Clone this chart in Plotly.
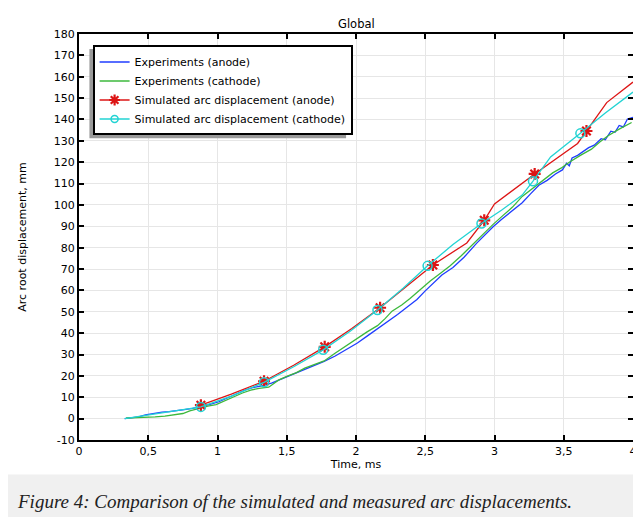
import plotly.graph_objects as go

# ---------------- data ----------------
exp_anode_t = [0.33, 0.38, 0.43, 0.48, 0.54, 0.60, 0.65, 0.70, 0.76, 0.82, 0.88, 0.94,
               1.01, 1.08, 1.14, 1.20, 1.26, 1.32, 1.39, 1.46, 1.54, 1.62, 1.70, 1.77,
               1.85, 1.93, 2.01, 2.08, 2.155, 2.23, 2.30, 2.37, 2.44, 2.50, 2.56, 2.62,
               2.70, 2.78, 2.87, 2.93, 2.99, 3.05, 3.12, 3.20, 3.26, 3.32, 3.38, 3.44,
               3.49, 3.52, 3.54, 3.56, 3.60, 3.64, 3.68, 3.72, 3.77, 3.80, 3.84, 3.87,
               3.90, 3.93, 3.96, 4.00]
exp_anode_d = [0.0, 0.3, 0.8, 1.8, 2.5, 3.0, 3.3, 3.6, 4.2, 4.8, 5.5, 6.5,
               7.9, 9.8, 11.6, 13.4, 14.6, 15.3, 16.6, 18.5, 20.5, 23.0, 25.2, 26.8,
               29.3, 32.2, 35.4, 38.6, 42.0, 45.5, 48.7, 52.2, 55.8, 59.8, 63.6, 67.2,
               70.7, 75.5, 82.0, 86.0, 89.8, 93.2, 96.8, 101.0, 105.2, 109.2, 111.5, 114.5,
               116.4, 119.5, 118.3, 122.0, 123.2, 125.0, 126.8, 128.0, 131.0, 130.5, 134.5, 134.0,
               137.2, 136.5, 140.2, 141.0]

exp_cathode_t = [0.34, 0.40, 0.49, 0.55, 0.62, 0.70, 0.75, 0.80, 0.87, 0.93, 0.99, 1.05,
                 1.11, 1.18, 1.24, 1.30, 1.37, 1.40, 1.44, 1.50, 1.57, 1.63, 1.70, 1.77,
                 1.846, 1.92, 2.01, 2.08, 2.155, 2.21, 2.26, 2.33, 2.39, 2.46, 2.536, 2.61,
                 2.68, 2.76, 2.87, 2.93, 2.99, 3.06, 3.13, 3.20, 3.27, 3.35, 3.42, 3.48,
                 3.54, 3.62, 3.70, 3.76, 3.82, 3.90, 3.99]
exp_cathode_d = [0.3, 0.4, 0.4, 0.8, 1.2, 1.8, 2.4, 3.6, 5.0, 5.9, 6.6, 8.3,
                 10.2, 12.0, 13.3, 14.2, 14.7, 16.0, 18.0, 19.8, 21.5, 23.6, 25.3, 27.0,
                 30.5, 33.8, 37.8, 40.6, 43.5, 46.8, 50.3, 53.2, 56.2, 60.2, 64.4, 68.0,
                 71.5, 76.2, 83.3, 87.2, 90.9, 95.0, 99.0, 104.0, 107.5, 111.8, 115.0, 117.2,
                 120.0, 123.2, 126.1, 129.5, 132.4, 135.5, 138.6]

sim_anode_t = [0.88, 1.10, 1.336, 1.55, 1.774, 1.97, 2.174, 2.36, 2.555, 2.80, 2.926,
               3.00, 3.29, 3.60, 3.664, 3.81, 4.00]
sim_anode_d = [6.3, 11.5, 17.5, 25.0, 33.6, 42.2, 51.9, 61.5, 71.9, 82.2, 92.8,
               100.5, 114.5, 128.8, 134.6, 147.9, 157.5]
sim_anode_marked = [0, 2, 4, 6, 8, 10, 12, 14]

sim_cathode_t = [0.33, 0.45, 0.60, 0.75, 0.88, 1.10, 1.336, 1.55, 1.763, 1.96, 2.155,
                 2.34, 2.517, 2.70, 2.906, 3.05, 3.20, 3.278, 3.405, 3.62, 3.80, 4.00]
sim_cathode_d = [0.0, 1.2, 2.6, 3.9, 5.5, 10.5, 17.0, 24.3, 32.2, 41.0, 50.8,
                 61.0, 71.5, 81.5, 91.3, 97.5, 104.6, 111.1, 122.5, 133.5, 143.0, 152.8]
sim_cathode_marked = [4, 6, 8, 10, 12, 14, 17, 19]

x_tickvals = [0, 0.5, 1, 1.5, 2, 2.5, 3, 3.5, 4]
x_ticktext = ["0", "0,5", "1", "1,5", "2", "2,5", "3", "3,5", "4"]
y_tickvals = list(range(-10, 181, 10))
y_ticktext = [str(v) for v in y_tickvals]

series_names = ["Experiments (anode)", "Experiments (cathode)",
                "Simulated arc displacement (anode)", "Simulated arc displacement (cathode)"]

# ---------------- styling ----------------
BLUE = "#1f3dff"
GREEN = "#3cb83c"
RED = "#dd1515"
CYAN = "#22d3d3"
FONT = "DejaVu Sans"

OFF = 8                       # page body margin in the browser
W, H = 641 - OFF, 517 - OFF
ML, MR, MT, MB = 71, 4, 26, 76.5
PW, PH = W - ML - MR, H - MT - MB


def px(xp):
    """reference-screen x pixel -> paper coordinate"""
    return (xp - OFF - ML) / PW


def py(yp):
    """reference-screen y pixel -> paper coordinate"""
    return (H - MB - (yp - OFF)) / PH


fig = go.Figure()

fig.add_trace(go.Scatter(x=exp_anode_t, y=exp_anode_d, mode="lines",
                         line=dict(color=BLUE, width=1.3), name=series_names[0]))
fig.add_trace(go.Scatter(x=exp_cathode_t, y=exp_cathode_d, mode="lines",
                         line=dict(color=GREEN, width=1.3), name=series_names[1]))

# simulated anode: line + markers on selected points
fig.add_trace(go.Scatter(x=sim_anode_t, y=sim_anode_d, mode="lines",
                         line=dict(color=RED, width=1.3), showlegend=False))
fig.add_trace(go.Scatter(x=[sim_anode_t[i] for i in sim_anode_marked],
                         y=[sim_anode_d[i] for i in sim_anode_marked], mode="markers",
                         marker=dict(symbol="asterisk-open", size=10, color=RED,
                                     line=dict(color=RED, width=2.2)),
                         showlegend=False))
fig.add_trace(go.Scatter(x=[None], y=[None], mode="lines+markers",
                         line=dict(color=RED, width=1.3),
                         marker=dict(symbol="asterisk-open", size=9, color=RED,
                                     line=dict(color=RED, width=2.2)),
                         name=series_names[2]))

# simulated cathode
fig.add_trace(go.Scatter(x=sim_cathode_t, y=sim_cathode_d, mode="lines",
                         line=dict(color=CYAN, width=1.3), showlegend=False))
fig.add_trace(go.Scatter(x=[sim_cathode_t[i] for i in sim_cathode_marked],
                         y=[sim_cathode_d[i] for i in sim_cathode_marked], mode="markers",
                         marker=dict(symbol="circle-open", size=9, color=CYAN,
                                     line=dict(color=CYAN, width=1.5)),
                         showlegend=False))
fig.add_trace(go.Scatter(x=[None], y=[None], mode="lines+markers",
                         line=dict(color=CYAN, width=1.3),
                         marker=dict(symbol="circle-open", size=7, color=CYAN,
                                     line=dict(color=CYAN, width=1.5)),
                         name=series_names[3]))

axis_common = dict(showline=True, linecolor="black", linewidth=2, mirror="ticks",
                   ticks="inside", ticklen=5, tickwidth=1.5, tickcolor="black",
                   showgrid=True, gridcolor="#e6e6e6", gridwidth=1, zeroline=False,
                   tickfont=dict(family=FONT, size=11, color="black"))

fig.update_xaxes(range=[0, 4], tickvals=x_tickvals, ticktext=x_ticktext,
                 title=dict(text="Time, ms", font=dict(family=FONT, size=11, color="black"),
                            standoff=2),
                 **axis_common)
fig.update_yaxes(range=[-10, 180], tickvals=y_tickvals, ticktext=y_ticktext,
                 title=dict(text="Arc root displacement, mm",
                            font=dict(family=FONT, size=11, color="black"), standoff=25),
                 **axis_common)

LEG_TOP = 45.5
shapes = [
    # gray strip under the chart panel (caption area)
    dict(type="rect", xref="paper", yref="paper", x0=px(0), x1=px(660), y0=py(530), y1=py(475),
         fillcolor="#f0f0f0", line=dict(width=0), layer="below"),
    # legend shadow
    dict(type="rect", xref="paper", yref="paper", x0=px(89.5), x1=px(348), y0=py(138.5),
         y1=py(LEG_TOP + 3.5), fillcolor="#9a9a9a", line=dict(width=0), layer="above"),
]

annotations = [
    dict(text="Global", xref="paper", yref="paper", x=0.5, y=1, yanchor="bottom",
         yshift=1, showarrow=False, font=dict(family=FONT, size=11.5, color="black")),
    dict(text="Figure 4: Comparison of the simulated and measured arc displacements.",
         xref="paper", yref="paper", x=px(15), y=py(502), xanchor="left", yanchor="middle",
         showarrow=False,
         font=dict(family="Liberation Serif", size=19, color="#222222", style="italic")),
]

fig.update_layout(
    width=W, height=H,
    margin=dict(l=ML, r=MR, t=MT, b=MB, pad=0),
    paper_bgcolor="white", plot_bgcolor="white",
    font=dict(family=FONT, size=11, color="black"),
    shapes=shapes, annotations=annotations,
    legend=dict(x=px(92.7), y=py(LEG_TOP), xanchor="left", yanchor="top",
                bgcolor="white", bordercolor="black", borderwidth=2,
                font=dict(family=FONT, size=11, color="black"),
                itemwidth=30, tracegroupgap=0),
)

fig.write_html("out.html")
